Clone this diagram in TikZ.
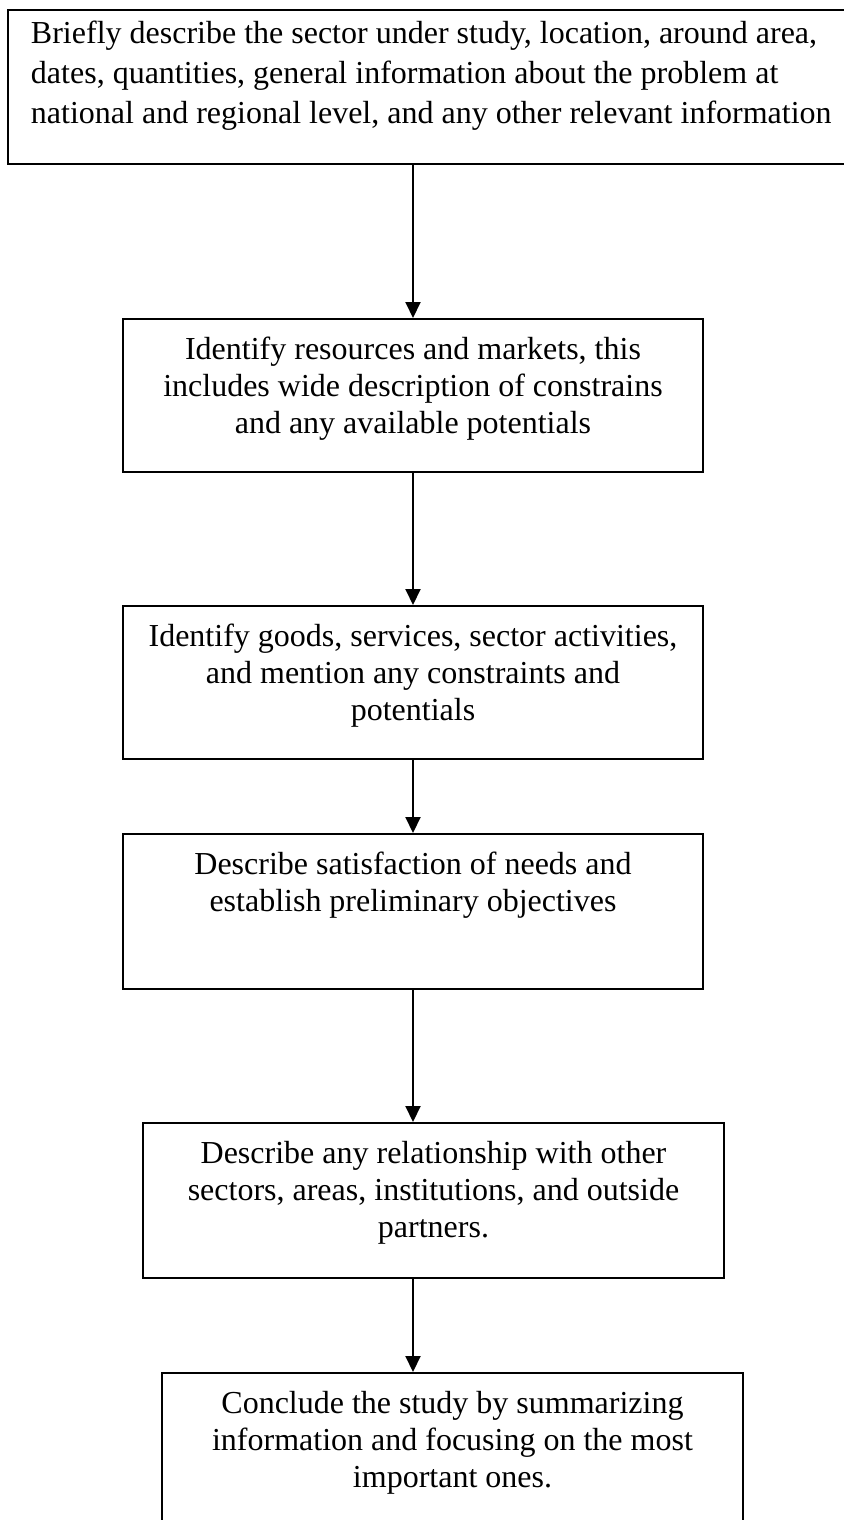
\documentclass[tikz,border=0pt]{standalone}
\usepackage{fontspec}
\setmainfont{Liberation Serif}
\usetikzlibrary{arrows.meta}

% text block of a fixed size, lines hung from the top edge
\newcommand{\flowtext}[4]{\parbox[c][#2][t]{#1}{\centering\rule{0pt}{#3}#4}}

\begin{document}
\begin{tikzpicture}[x=1pt,y=-1pt,
  stepbox/.style={draw=black, line width=2pt, inner sep=0pt, anchor=north west,
                  font=\fontsize{32}{37}\selectfont},
  flow/.style={draw=black, line width=2pt, -{Triangle[length=16pt,width=15pt]}}]

\fill[white] (0,0) rectangle (843,1520);
\useasboundingbox (0,0) rectangle (843,1520);

% overview box, wider than the page on the right
\node[stepbox, font=\fontsize{32}{40}\selectfont] (b1) at (7,9)
  {\parbox[c][154pt][t]{839pt}{\raggedright\leftskip=23pt\rule{0pt}{33pt}Briefly describe the sector under study, location, around area,\\
   dates, quantities, general information about the problem at\\
   national and regional level, and any other relevant information}};

\node[stepbox] (b2) at (122,318)
  {\flowtext{580pt}{153pt}{40pt}{Identify resources and markets, this\\
   includes wide description of constrains\\ and any available potentials}};

\node[stepbox] (b3) at (122,605)
  {\flowtext{580pt}{153pt}{40pt}{Identify goods, services, sector activities,\\
   and mention any constraints and\\ potentials}};

\node[stepbox] (b4) at (122,833)
  {\flowtext{580pt}{155pt}{40pt}{Describe satisfaction of needs and\\
   establish preliminary objectives}};

\node[stepbox] (b5) at (142,1122)
  {\flowtext{581pt}{155pt}{40pt}{Describe any relationship with other\\
   sectors, areas, institutions, and outside\\ partners.}};

% last box runs past the bottom of the page
\node[stepbox] (b6) at (161,1372)
  {\flowtext{581pt}{158pt}{40pt}{Conclude the study by summarizing\\
   information and focusing on the most\\ important ones.}};

\draw[flow] (b1.south -| b2.north) -- (b2.north);
\draw[flow] (b2.south) -- (b3.north);
\draw[flow] (b3.south) -- (b4.north);
\draw[flow] (b4.south) -- (b4.south |- b5.north);
\draw[flow] (b5.south -| b4.south) -- (b6.north -| b4.south);
\end{tikzpicture}
\end{document}
